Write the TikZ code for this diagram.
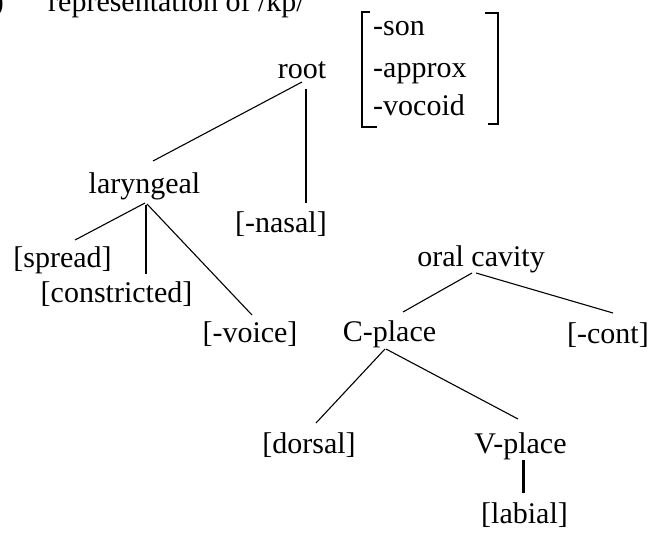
\documentclass[tikz,border=0pt]{standalone}
\usepackage{fontspec}
\setmainfont{Liberation Serif}
\begin{document}
\begin{tikzpicture}[x=1pt,y=-1pt,
  lbl/.style={anchor=base, inner sep=0pt, font=\fontsize{30}{36}\selectfont},
  feat/.style={lbl, anchor=base west},
  edge/.style={line width=1.1pt},
  heavy/.style={line width=3pt},
  brack/.style={line width=1.2pt}]
\useasboundingbox (0,0) rectangle (651,536);
\clip (0,0) rectangle (651,536);

% heading line
\node[feat, anchor=base east] (num) at (4,11) {(7)};
\node[feat] (title) at (48,11) {representation of /kp/};

% root and its feature matrix
\node[lbl] (root) at (302,78) {root};
\node[feat] (son) at (373,35) {-son};
\node[feat] (approx) at (373,77) {-approx};
\node[feat] (vocoid) at (373,115) {-vocoid};
\draw[brack] (370,12) -- (362,12) -- (362,127) -- (377,127);
\draw[brack] (485,13) -- (498,13) -- (498,124) -- (488,124);

% laryngeal branch
\node[lbl] (laryngeal) at (144.5,193) {laryngeal};
\node[lbl] (nasal) at (281,232) {[-nasal]};
\node[lbl] (spread) at (62.5,267) {[spread]};
\node[lbl] (constricted) at (116.5,302) {[constricted]};
\node[lbl] (voice) at (250,342) {[-voice]};

% oral cavity branch
\node[lbl] (oral) at (481,266) {oral cavity};
\node[lbl] (cplace) at (389.5,341) {C-place};
\node[lbl] (cont) at (608,343) {[-cont]};
\node[lbl] (dorsal) at (309,453) {[dorsal]};
\node[lbl] (vplace) at (520.5,453) {V-place};
\node[lbl] (labial) at (524.5,523) {[labial]};

% association lines
\draw[edge] ([shift={(0,4)}]root.base) -- ([shift={(8.5,-32)}]laryngeal.base);
\draw[edge] ([shift={(4,11)}]root.base) -- ([shift={(25,-29)}]nasal.base);
\draw[edge] ([shift={(0.5,10)}]laryngeal.base) -- ([shift={(12.5,-27)}]spread.base);
\draw[edge] ([shift={(1.5,12)}]laryngeal.base) -- ([shift={(29.5,-28)}]constricted.base);
\draw[edge] ([shift={(2.5,11)}]laryngeal.base) -- ([shift={(2,-27)}]voice.base);
\draw[edge] ([shift={(-9,7)}]oral.base) -- ([shift={(13.5,-29)}]cplace.base);
\draw[edge] ([shift={(-5,7)}]oral.base) -- ([shift={(5,-30)}]cont.base);
\draw[edge] ([shift={(-4.5,8)}]cplace.base) -- ([shift={(7,-30)}]dorsal.base);
\draw[edge] ([shift={(-3.5,8)}]cplace.base) -- ([shift={(-2.5,-34)}]vplace.base);
\draw[heavy] ([shift={(2.5,7)}]vplace.base) -- ([shift={(-1.5,-30)}]labial.base);
\end{tikzpicture}
\end{document}
